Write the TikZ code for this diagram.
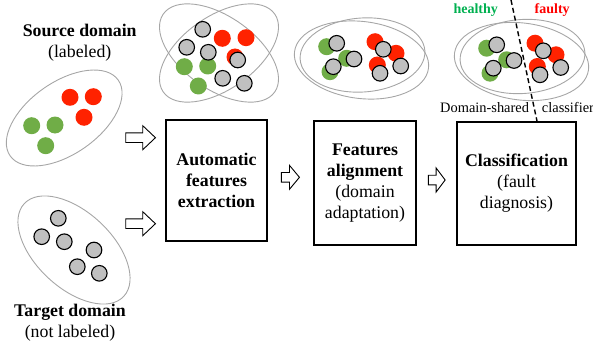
\documentclass[tikz,border=0pt]{standalone}
\usepackage{fontspec}
\setmainfont{Liberation Serif}
\usetikzlibrary{calc}

\definecolor{dotgreen}{HTML}{70AD47}
\definecolor{dotred}{HTML}{FF2200}
\definecolor{dotgray}{HTML}{C0C0C0}
\definecolor{okgreen}{HTML}{00B050}
\definecolor{badred}{HTML}{FF0000}
\definecolor{ringgray}{HTML}{A6A6A6}

\tikzset{
  ring/.style={draw=ringgray, line width=0.9pt},
  stage/.style={draw=black, line width=1.1pt, align=center,
    font=\fontsize{17.8}{21}\selectfont, inner sep=0pt},
  title/.style={align=center, font=\fontsize{17.8}{21}\selectfont},
  barrow/.style={draw=black, fill=white, line width=0.9pt, line join=miter},
  cut/.style={draw=black, line width=1.4pt, dash pattern=on 5pt off 3pt},
  classlabel/.style={font=\bfseries\fontsize{14}{16}\selectfont, anchor=base},
}

% sample points of the three kinds
\newcommand\gdotat[1]{\fill[dotgreen] (#1) circle[radius=8.5pt];}
\newcommand\rdotat[1]{\fill[dotred] (#1) circle[radius=8.5pt];}
\newcommand\tdotat[1]{\filldraw[fill=dotgray, draw=black, line width=1.1pt] (#1) circle[radius=7.8pt];}

% hollow block arrow: start, tip, head length
\newcommand\blockarrow[3]{%
  \draw[barrow] ($(#1)+(0,4.8)$) -- ($(#2)+(-#3,4.8)$) -- ($(#2)+(-#3,12)$)
    -- (#2) -- ($(#2)+(-#3,-12)$) -- ($(#2)+(-#3,-4.8)$) -- ($(#1)+(0,-4.8)$) -- cycle;}

% one cluster of adapted features: source points sit under the target points
\newcommand\adaptedcluster{%
  \draw[ring, rotate around={-7:(361.5,60)}] (361.5,60) ellipse [x radius=67.5pt, y radius=38.5pt];
  \draw[ring, rotate around={4:(362.5,55)}] (362.5,55) ellipse [x radius=62.5pt, y radius=37pt];
  \gdotat{326.7,46.7}\gdotat{346.7,58.3}\gdotat{330,71.7}
  \rdotat{375,41.7}\rdotat{396,53.3}\rdotat{377.3,65}
  \tdotat{336.7,43.3}\tdotat{354,59}\tdotat{333.3,66.7}
  \tdotat{383.3,49.3}\tdotat{400.7,66}\tdotat{380,73.3}}

\begin{document}
\begin{tikzpicture}[x=1pt, y=-1pt]
\useasboundingbox (0,0) rectangle (593,350);

% source domain
\node[title, anchor=north] (srcttl) at (79.7,21) {\textbf{Source domain}\\(labeled)};
\draw[ring, rotate around={35:(64.2,118)}] (64.2,118) ellipse [x radius=66pt, y radius=36pt];
\gdotat{31.7,125.7}\gdotat{55,125}\gdotat{45.7,145.7}
\rdotat{70,97.3}\rdotat{93.3,96.7}\rdotat{84,117.3}

% target domain
\draw[ring, rotate around={-43:(74,250)}] (74,250) ellipse [x radius=68pt, y radius=38pt];
\tdotat{58.3,218.3}\tdotat{41.7,236.7}\tdotat{64.3,241.7}
\tdotat{94,250}\tdotat{77.3,266.7}\tdotat{99.3,273.3}
\node[title, anchor=north] (tgtttl) at (70,301) {\textbf{Target domain}\\(not labeled)};

% extracted features, before alignment
\draw[ring, rotate around={35:(219,53)}] (219,53) ellipse [x radius=68pt, y radius=36.5pt];
\draw[ring, rotate around={-35:(219,53)}] (219,53) ellipse [x radius=68pt, y radius=36.5pt];
\gdotat{184.3,66.7}\gdotat{207.7,66}\gdotat{198.3,86}
\rdotat{222.3,38.3}\rdotat{246,37.7}\rdotat{235,57}
\tdotat{202.7,29.3}\tdotat{186.7,47.3}\tdotat{208.3,52.3}
\tdotat{237.7,60}\tdotat{222.7,78.3}\tdotat{244.3,83.3}

% aligned features
\adaptedcluster
\begin{scope}[shift={(160,1.5)}]
  \adaptedcluster
\end{scope}

% processing stages
\node[stage, minimum width=101pt, minimum height=121pt] (auto) at (216.5,180.5)
  {\textbf{Automatic}\\\textbf{features}\\\textbf{extraction}};
\node[stage, minimum width=102pt, minimum height=124pt] (adapt) at (365,183)
  {\textbf{Features}\\\textbf{alignment}\\(domain\\adaptation)};
\node[stage, minimum width=119pt, minimum height=123pt] (classif) at (516.5,183.5)
  {\textbf{Classification}\\(fault\\diagnosis)};

% block arrows
\coordinate (s1) at (125.7,137.7);
\coordinate (e1) at ($(auto.west |- s1)+(-10,0)$);
\coordinate (s2) at (125.7,223.7);
\coordinate (e2) at ($(auto.west |- s2)+(-10,0)$);
\coordinate (s3) at (281.3,177.3);
\coordinate (e3) at ($(adapt.west |- s3)+(-14,0)$);
\coordinate (s4) at (428.3,180);
\coordinate (e4) at ($(classif.west |- s4)+(-11.3,0)$);
\blockarrow{s1}{e1}{12.7}
\blockarrow{s2}{e2}{12.7}
\blockarrow{s3}{e3}{10}
\blockarrow{s4}{e4}{9}

% classifier boundary and labels
\node[classlabel, text=okgreen] (healthy) at (475.7,13.3) {healthy};
\node[classlabel, text=badred] (faulty) at (552.2,13.3) {faulty};
\node[font=\fontsize{14.4}{16}\selectfont, anchor=base west, inner sep=0pt] (shared) at (440,112)
  {Domain-shared\hspace{13pt}classifier};
\coordinate (cuttop) at (511,0);
\coordinate (cutbot) at (537,121);
\draw[cut] (cuttop) -- (cutbot);
\end{tikzpicture}
\end{document}
